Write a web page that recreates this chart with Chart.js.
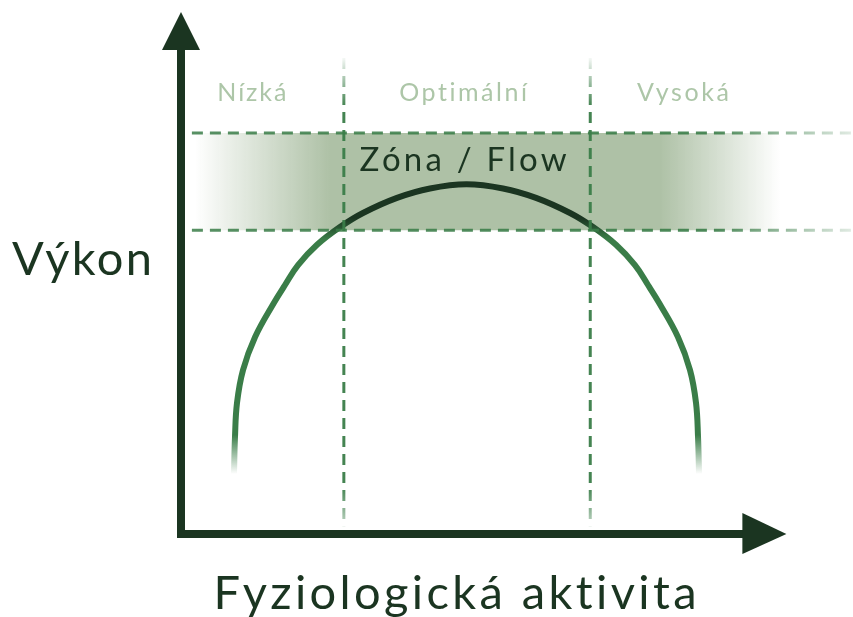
<!DOCTYPE html>
<html>
<head>
<meta charset="utf-8">
<script src="https://cdn.jsdelivr.net/npm/chart.js@4.4.1/dist/chart.umd.min.js"></script>
<style>
  html, body { margin: 0; padding: 0; background: #fff; }
  #wrap { width: 853px; height: 617px; }
</style>
</head>
<body>
<div id="wrap"><canvas id="flowChart"></canvas></div>
<script>
// krivka vykonu (x = fyziologicka aktivita, y = vykon)
const activity    = [8.75, 8.92, 9.25, 10.24, 12.22, 15.36, 17.18, 19.33, 22.47, 26.26, 30.06, 35.68, 41.13, 47.16,
                     53.19, 58.64, 64.26, 68.06, 71.85, 74.99, 77.14, 78.96, 82.10, 84.08, 85.07, 85.40, 85.57];
const performance = [11.5, 18.6, 25.1, 31.4, 37.7, 44.3, 47.7, 51.5, 55.4, 58.8, 61.5, 64.4, 66.2, 67.0,
                     66.2, 64.4, 61.5, 58.8, 55.4, 51.5, 47.7, 44.3, 37.7, 31.4, 25.1, 18.6, 11.5];

// zony aktivity
const zoneLabels  = ['Nízká', 'Optimální', 'Vysoká'];
const zoneLabelX  = [11.7, 46.6, 82.9];
const zoneLabelY  = 84.5;
const zoneBounds  = [26.9, 67.6];     // svisle carkovane hranice
const zoneSpan    = [91.2, 1.5];      // odkud kam vedou

// pasmo flow
const flowBand    = [58.2, 76.8];     // spodni / horni hranice
const flowBandX   = [1.8, 111];
const flowLabel   = 'Zóna / Flow';
const flowLabelPos = [46.6, 71.6];

const axisTip = 100;
const yTitle = 'Výkon';
const xTitle = 'Fyziologická aktivita';

const DARK = '#1b3521';
const GREEN = '58,125,72';
const BAND = '174,193,166';
const LABEL = '#adc6a8';

function hGrad(chart, stops) {
  const { ctx, scales } = chart;
  const g = ctx.createLinearGradient(scales.x.getPixelForValue(0), 0, scales.x.getPixelForValue(111), 0);
  stops.forEach(([v, c]) => g.addColorStop(Math.min(1, Math.max(0, v / 111)), c));
  return g;
}
function vGrad(chart, stops) {
  const { ctx, scales } = chart;
  const g = ctx.createLinearGradient(0, scales.y.getPixelForValue(100), 0, scales.y.getPixelForValue(0));
  stops.forEach(([v, c]) => g.addColorStop(Math.min(1, Math.max(0, (100 - v) / 100)), c));
  return g;
}

const bandFill = (c) => c.chart.chartArea ? hGrad(c.chart, [
  [2.3, `rgba(${BAND},0)`], [24.6, `rgba(${BAND},1)`], [79.1, `rgba(${BAND},1)`], [98.9, `rgba(${BAND},0)`]
]) : 'transparent';
const bandLine = (c) => c.chart.chartArea ? hGrad(c.chart, [
  [1.8, `rgba(${GREEN},0.85)`], [88, `rgba(${GREEN},0.9)`], [111, `rgba(${GREEN},0.15)`]
]) : 'transparent';
const zoneLine = (c) => c.chart.chartArea ? vGrad(c.chart, [
  [91.2, `rgba(${GREEN},0.05)`], [82, `rgba(${GREEN},0.95)`], [9, `rgba(${GREEN},0.95)`], [1.5, `rgba(${GREEN},0.3)`]
]) : 'transparent';
const arcLine = (c) => c.chart.chartArea ? vGrad(c.chart, [
  [67, DARK], [60.5, DARK], [56.5, `rgb(${GREEN})`], [19, `rgb(${GREEN})`], [11.5, `rgba(${GREEN},0)`]
]) : DARK;

const dash = [11, 7];

function fitText(c, text, x, y, width) {
  c.letterSpacing = '0px';
  const w = c.measureText(text).width;
  const ls = (width - w) / (text.length - 1);
  c.letterSpacing = ls + 'px';
  c.fillText(text, x + ls / 2, y);
  c.letterSpacing = '0px';
}

const decor = {
  id: 'decor',
  afterDraw(chart) {
    const { ctx, scales: { x, y } } = chart;
    const x0 = x.getPixelForValue(0), y0 = y.getPixelForValue(0);
    const xt = x.getPixelForValue(axisTip), yt = y.getPixelForValue(axisTip);
    ctx.save();
    ctx.strokeStyle = DARK;
    ctx.fillStyle = DARK;
    ctx.lineWidth = 8;
    ctx.lineCap = 'butt';
    ctx.beginPath();
    ctx.moveTo(x0, y0 + 4); ctx.lineTo(x0, yt + 36);
    ctx.moveTo(x0 - 4, y0); ctx.lineTo(xt - 42, y0);
    ctx.stroke();
    ctx.beginPath();
    ctx.moveTo(x0, yt); ctx.lineTo(x0 - 19, yt + 38); ctx.lineTo(x0 + 19, yt + 38); ctx.closePath();
    ctx.fill();
    ctx.beginPath();
    ctx.moveTo(xt, y0); ctx.lineTo(xt - 44, y0 - 21); ctx.lineTo(xt - 44, y0 + 20); ctx.closePath();
    ctx.fill();

    ctx.textAlign = 'center';
    ctx.textBaseline = 'alphabetic';
    ctx.font = '400 25px Lato';
    ctx.fillStyle = LABEL;
    const widths = [69, 128, 92];
    zoneLabels.forEach((t, i) => fitText(ctx, t, x.getPixelForValue(zoneLabelX[i]), y.getPixelForValue(zoneLabelY) + 8, widths[i]));

    ctx.fillStyle = DARK;
    ctx.font = '400 33px Lato';
    fitText(ctx, flowLabel, x.getPixelForValue(flowLabelPos[0]), y.getPixelForValue(flowLabelPos[1]) + 11, 207);

    ctx.font = '400 47px Lato';
    fitText(ctx, yTitle, 82, 275, 140);
    fitText(ctx, xTitle, 455, 609, 484);
    ctx.restore();
  }
};

new Chart(document.getElementById('flowChart'), {
  type: 'line',
  data: {
    datasets: [
      { data: [{ x: zoneBounds[0], y: zoneSpan[0] }, { x: zoneBounds[0], y: zoneSpan[1] }],
        borderColor: zoneLine, borderWidth: 3, borderDash: dash, fill: false },
      { data: [{ x: zoneBounds[1], y: zoneSpan[0] }, { x: zoneBounds[1], y: zoneSpan[1] }],
        borderColor: zoneLine, borderWidth: 3, borderDash: dash, fill: false },
      { data: [{ x: flowBandX[0], y: flowBand[1] }, { x: flowBandX[1], y: flowBand[1] }],
        borderColor: bandLine, borderWidth: 3, borderDash: dash, fill: false },
      { data: [{ x: flowBandX[0], y: flowBand[0] }, { x: flowBandX[1], y: flowBand[0] }],
        borderColor: bandLine, borderWidth: 3, borderDash: dash, fill: '-1', backgroundColor: bandFill },
      { data: activity.map((a, i) => ({ x: a, y: performance[i] })),
        borderColor: arcLine, borderWidth: 6, tension: 0.4, fill: false }
    ]
  },
  options: {
    responsive: true,
    maintainAspectRatio: false,
    animation: false,
    layout: { padding: { left: 181, right: 0, top: 12, bottom: 83 } },
    elements: { point: { radius: 0, hoverRadius: 0 } },
    scales: {
      x: { type: 'linear', display: false, min: 0, max: 111 },
      y: { type: 'linear', display: false, min: 0, max: 100 }
    },
    plugins: {
      legend: { display: false },
      tooltip: { enabled: false },
      filler: { drawTime: 'beforeDatasetsDraw' }
    }
  },
  plugins: [decor]
});
</script>
</body>
</html>
